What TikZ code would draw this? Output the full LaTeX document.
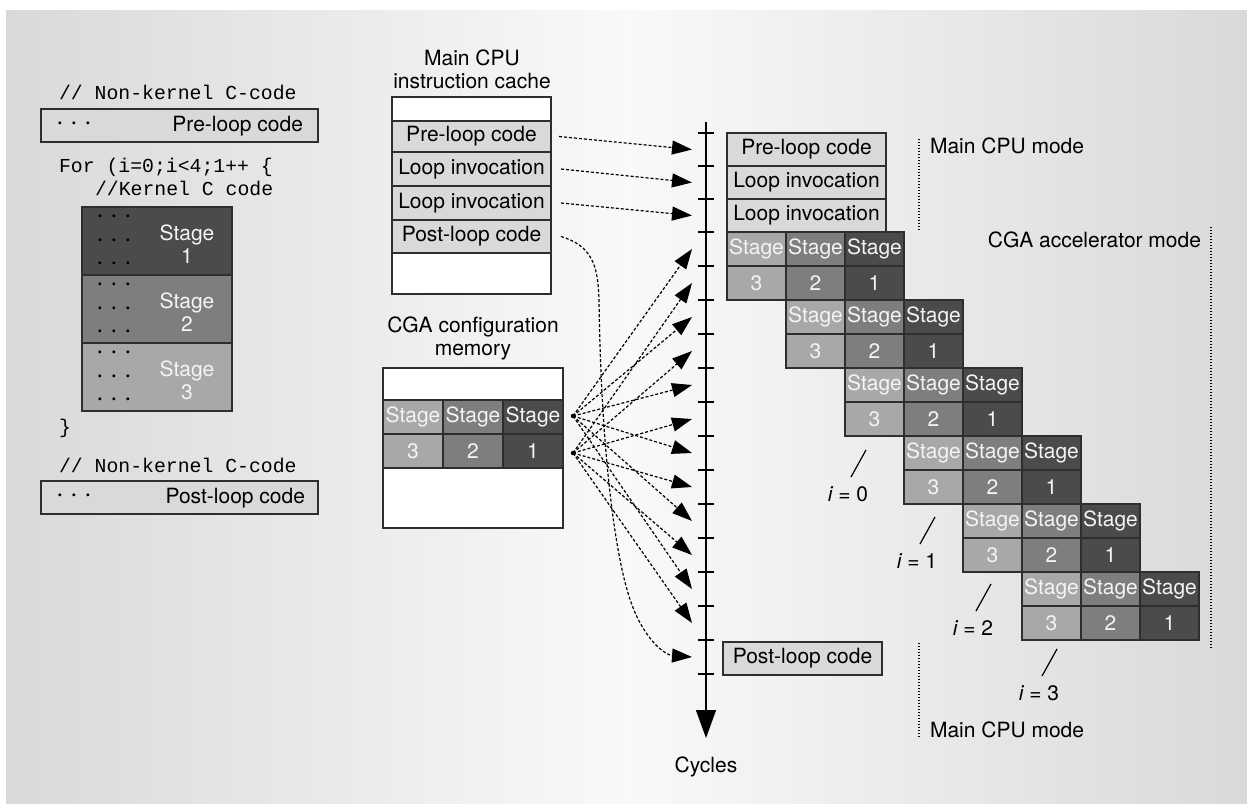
\documentclass[tikz,border=0pt]{standalone}
\usepackage{fontspec}
\setmainfont{TeX Gyre Heros}
\setmonofont{Liberation Mono}
\usetikzlibrary{arrows.meta}

\definecolor{boxline}{HTML}{2E2E2E}
\definecolor{lightfill}{HTML}{D9D9D9}
\definecolor{stthree}{HTML}{A8A8A8}
\definecolor{sttwo}{HTML}{7E7E7E}
\definecolor{stone}{HTML}{4B4B4B}
\definecolor{bgedge}{HTML}{D9D9D9}
\definecolor{bgmid}{HTML}{F9F9F9}
\definecolor{celltext}{HTML}{F4F4F4}

% three centred dots standing for elided code
\newcommand\onedot{\makebox[14pt]{\raisebox{0.5pt}{\fontsize{12}{12}\selectfont •}}}
\newcommand\threedots{\onedot\onedot\onedot}

\begin{document}
\begin{tikzpicture}[x=1pt,y=-1pt,
  font=\fontsize{21}{23}\selectfont,
  every node/.style={inner sep=0pt, outer sep=0pt},
  frame/.style={draw=boxline, line width=1.2pt},
  lightbox/.style={frame, fill=lightfill, anchor=north west},
  cell/.style={frame, anchor=north west, minimum width=59pt, minimum height=34pt, text=celltext},
  sthree/.style={cell, fill=stthree},
  stwo/.style={cell, fill=sttwo},
  sone/.style={cell, fill=stone},
  codeline/.style={anchor=west, font=\ttfamily\fontsize{19.8}{22}\selectfont},
  feed/.style={line width=1.2pt, dash pattern=on 3pt off 2pt, -{Triangle[length=20pt,width=14pt]}},
  modeline/.style={line width=1.2pt, dash pattern=on 1.4pt off 1.6pt},
  slash/.style={line width=1.2pt},
  srcdot/.style={circle, fill=black, minimum size=4.5pt},
]
\useasboundingbox (0,0) rectangle (1247,803);
\shade[left color=bgedge, right color=bgedge, middle color=bgmid] (6,10) rectangle (1247,803);

% ---------------- source code column ----------------
\node[codeline] (nk1) at (59,92) {// Non-kernel C-code};
\node[lightbox, minimum width=277pt, minimum height=33pt] (srcpre) at (41,109) {};
\node (srcpredots) at (74,125) {\threedots};
\node[anchor=east] (srcpretxt) at (303,126) {Pre-loop code};
\node[codeline] (forline) at (59,167) {For (i=0;i<4;1++ \{};
\node[codeline] (kline) at (95,188) {//Kernel C code};
\foreach \k/\fc/\n in {0/stone/1, 1/sttwo/2, 2/stthree/3} {
  \node[frame, fill=\fc, anchor=north west, minimum width=150pt, minimum height=68pt] (ks\n) at (82,207+68*\k) {};
  \node[align=center, text=celltext] (kst\n) at (187,244+68*\k) {Stage\\\n};
  \foreach \d in {11,35,58} \node at (114,207+68*\k+\d) {\threedots};
}
\node[codeline] (closebrace) at (59,428) {\}};
\node[codeline] (nk2) at (59,465) {// Non-kernel C-code};
\node[lightbox, minimum width=277pt, minimum height=33pt] (srcpost) at (41,481) {};
\node (srcpostdots) at (74,497) {\threedots};
\node[anchor=east] (srcposttxt) at (305,498) {Post-loop code};

% ---------------- main CPU instruction cache ----------------
\node[align=center] (cachetitle) at (472,69) {Main CPU\\instruction cache};
\node[frame, fill=white, anchor=north west, minimum width=159pt, minimum height=197pt] (cache) at (392,97) {};
\node[lightbox, minimum width=159pt, minimum height=31pt] (c1) at (392,121) {Pre-loop code};
\node[lightbox, minimum width=159pt, minimum height=34pt] (c2) at (392,152) {Loop invocation};
\node[lightbox, minimum width=159pt, minimum height=34pt] (c3) at (392,186) {Loop invocation};
\node[lightbox, minimum width=159pt, minimum height=33pt] (c4) at (392,220) {Post-loop code};

% ---------------- CGA configuration memory ----------------
\node[align=center] (cgatitle) at (473,338) {CGA configuration\\memory};
\node[frame, fill=white, anchor=north west, minimum width=180pt, minimum height=160pt] (cga) at (383,368) {};
\node[sthree, minimum width=60pt] (m3) at (383,400) {Stage};
\node[stwo,   minimum width=60pt] (m2) at (443,400) {Stage};
\node[sone,   minimum width=60pt] (m1) at (503,400) {Stage};
\node[sthree, minimum width=60pt] (n3) at (383,434) {3};
\node[stwo,   minimum width=60pt] (n2) at (443,434) {2};
\node[sone,   minimum width=60pt] (n1) at (503,434) {1};
\node[srcdot] (da) at (573,416) {};
\node[srcdot] (db) at (573,453) {};

% ---------------- time axis ----------------
\coordinate (axtop) at (706,122);
\coordinate (axend) at (706,738);
\draw[line width=1.3pt, -{Triangle[length=28pt,width=20pt]}] (axtop) -- (axend);
\node (cycles) at (706,767) {Cycles};
\foreach \y in {133,166,199,232,266,300,334,368,402,436,470,504,538,572,606,640,674}
  \draw[line width=1.2pt] (698,\y) -- (714,\y);
\foreach \k/\y in {0/149.5,1/182.5,2/215.5,3/249,4/283,5/317,6/351,7/385,8/419,
                   9/453,10/487,11/521,12/555,13/589,14/623,15/657}
  \coordinate (tip\k) at (692,\y);

% ---------------- execution schedule ----------------
\node[lightbox, minimum width=159pt, minimum height=33pt] (tpre) at (727,133) {Pre-loop code};
\node[lightbox, minimum width=159pt, minimum height=33pt] (tinv1) at (727,166) {Loop invocation};
\node[lightbox, minimum width=159pt, minimum height=33pt] (tinv2) at (727,199) {Loop invocation};
\foreach \j in {0,...,5} {
  \pgfmathsetmacro\bx{727+59*\j}
  \pgfmathsetmacro\by{232+68*\j}
  \node[sthree] (b\j-s3) at (\bx,\by) {Stage};
  \node[stwo]   (b\j-s2) at (\bx+59,\by) {Stage};
  \node[sone]   (b\j-s1) at (\bx+118,\by) {Stage};
  \node[sthree] (b\j-n3) at (\bx,\by+34) {3};
  \node[stwo]   (b\j-n2) at (\bx+59,\by+34) {2};
  \node[sone]   (b\j-n1) at (\bx+118,\by+34) {1};
}
\node[lightbox, minimum width=159pt, minimum height=33pt] (tpost) at (723,642) {Post-loop code};

% ---------------- fetch arrows ----------------
\draw[feed] ([xshift=8pt]c1.east) -- (tip0);
\draw[feed] ([xshift=10pt]c2.east) -- (tip1);
\draw[feed] ([xshift=10pt]c3.east) -- (tip2);
\draw[feed] ([xshift=10pt]c4.east) .. controls (592,246) and (598,265) .. (599,300)
  .. controls (601,450) and (615,560) .. (632,605)
  .. controls (645,640) and (665,655) .. (tip15);
\foreach \k in {3,5,7,9,11,13} \draw[feed] (da.center) -- (tip\k);
\foreach \k in {4,6,8,10,12,14} \draw[feed] (db.center) -- (tip\k);

% ---------------- operating modes ----------------
\draw[modeline] (919,139) -- (919,230);
\node[anchor=west] (mode1) at (930,146) {Main CPU mode};
\node[anchor=east] (mode2) at (1201,240) {CGA accelerator mode};
\draw[modeline] (1211,227) -- (1211,648);
\draw[modeline] (919,643) -- (919,737);
\node[anchor=west] (mode3) at (930,730) {Main CPU mode};

% ---------------- iteration markers ----------------
\foreach \n/\x/\y in {0/848/494, 1/917/561, 2/973/628, 3/1039/693} {
  \node (iter\n) at (\x,\y) {{\itshape i} = \n};
  \draw[slash] ([shift={(18,-44)}]iter\n.center) -- ([shift={(3,-17)}]iter\n.center);
}
\end{tikzpicture}
\end{document}
